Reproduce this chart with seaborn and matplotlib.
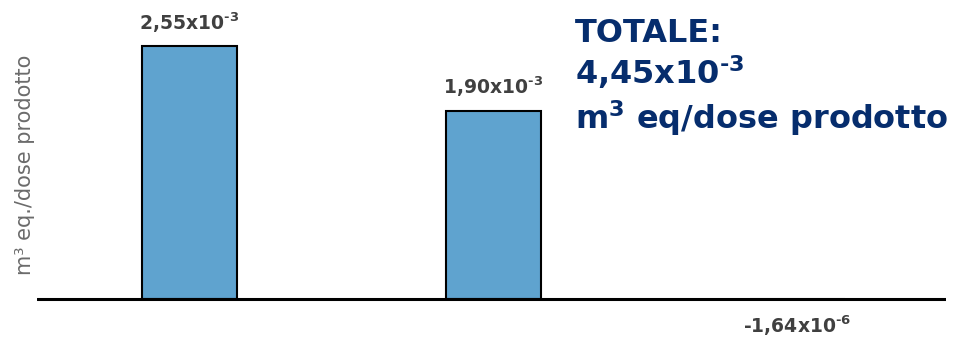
import matplotlib
matplotlib.use("Agg")
import matplotlib.pyplot as plt
import seaborn as sns
import pandas as pd

# Data
phases = ["Materie prime", "Produzione", "Fine vita"]
values = [2.55e-3, 1.90e-3, -1.64e-6]
unit_axis = "m³ eq./dose prodotto"
unit_total = r"m$^{\mathbf{3}}$ eq/dose prodotto"


def sci_it(v):
    """Format a number as 'm,mmx10^e' with Italian decimal comma and a short hyphen."""
    s = f"{v:.2e}"
    mant, exp = s.split("e")
    exp = str(int(exp)).replace("-", "\u2011")
    return mant.replace(".", ",") + r"x10$^{\mathbf{" + exp + "}}$"


sns.set_theme(style="white")
plt.rcParams["font.family"] = ["DejaVu Sans"]
plt.rcParams["mathtext.fontset"] = "dejavusans"

df = pd.DataFrame({"fase": phases, "valore": values})

fig = plt.figure(figsize=(9.54, 3.37), dpi=100)
ax = fig.add_axes([37 / 954, 0, (946 - 37) / 954, 1])

sns.barplot(data=df, x="fase", y="valore", ax=ax, color="#5fa3cf",
            saturation=1, edgecolor="black", linewidth=1.5, width=0.3125)

ax.set_ylim(-0.383e-3, 3.014e-3)
ax.set_xlim(-0.5, 2.49)
ax.axhline(0, color="black", lw=2.2, zorder=5)
for s in ax.spines.values():
    s.set_visible(False)
ax.set_xticks([])
ax.set_yticks([])
ax.set_xlabel("")
ax.set_ylabel("")
ax.set_facecolor("none")

# the near-zero bar shows only as a grey sliver under the axis
for p, v in zip(ax.patches, values):
    if abs(v) < 1e-5:
        p.set_edgecolor("#8c8c8c")

for i, v in enumerate(values):
    off = 17 if v > 0 else -19
    ax.annotate(sci_it(v), xy=(i, v), xytext=(0, off), textcoords="offset points",
                ha="center", va="center", fontsize=13.5, fontweight="bold",
                color="#404040")

fig.text(25 / 954, 1 - 165 / 337, unit_axis, rotation=90, ha="center",
         va="center", fontsize=15, color="#6b6b6b")

total = sum(values)
total_lines = ["TOTALE:", sci_it(total), unit_total]
baselines = [42, 84, 129]
for line, yb in zip(total_lines, baselines):
    fig.text(575 / 954, 1 - yb / 337, line, ha="left", va="baseline",
             fontsize=23, fontweight="bold", color="#062d6d")

fig.savefig("out.png", dpi=100)
